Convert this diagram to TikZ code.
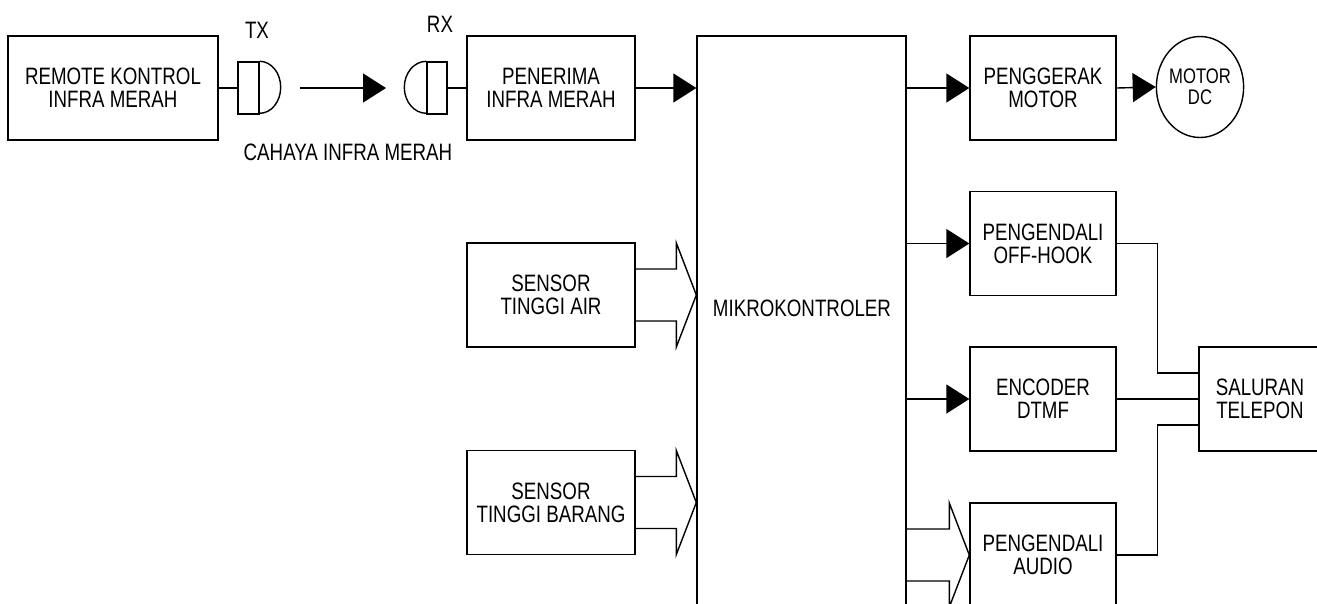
\documentclass[tikz,border=0pt]{standalone}
\usepackage{fontspec}
\setmainfont{Liberation Sans}[FakeStretch=0.79]
\usetikzlibrary{arrows.meta,calc,shapes.geometric}

\tikzset{
  blok/.style={draw, rectangle, minimum width=3.36cm, minimum height=2.08cm, align=center, inner sep=0pt},
  blokkanan/.style={blok, minimum width=2.92cm},
  panah/.style={-{Triangle[length=0.46cm,width=0.58cm]}},
}

% panah tebal (berongga): #1 pangkal, #2 ujung
\newcommand{\panahtebal}[2]{%
  \draw ($(#1)+(0,-26)$) -| ($(#2)+(-20,-52)$) -- (#2) -- ($(#2)+(-20,52)$) |- ($(#1)+(0,26)$);
}

\begin{document}
\begin{tikzpicture}[x=0.02cm, y=-0.02cm, line width=0.8pt,
    font=\fontsize{13.5}{13.2}\selectfont]
  \useasboundingbox (0,0) rectangle (1317,603);

  % blok kiri
  \node[blok, minimum width=4.2cm] (remote) at (113,88) {REMOTE KONTROL\\INFRA MERAH};
  \node[draw, minimum width=0.42cm, minimum height=1.04cm, inner sep=0pt] (tx) at (248.5,88) {};
  \node[draw, minimum width=0.4cm, minimum height=1.04cm, inner sep=0pt] (rx) at (437,88) {};
  \node[blok] (penerima) at (551,88) {PENERIMA\\INFRA MERAH};
  \node[blok] (air) at (551,295) {SENSOR\\TINGGI AIR};
  \node[blok] (barang) at (551,502.5) {SENSOR\\TINGGI BARANG};

  \node (txlabel) at (257,30) {TX};
  \node (rxlabel) at (440,24) {RX};
  \node (cahaya) at (348,152) {CAHAYA INFRA MERAH};

  % mikrokontroler
  \node[draw, minimum width=4.18cm, minimum height=12.08cm, inner sep=0pt] (mk) at (801.5,338) {};
  \node (mklabel) at (802,308) {MIKROKONTROLER};

  % blok kanan
  \node[blokkanan] (gerak) at (1043,88) {PENGGERAK\\MOTOR};
  \node[draw, ellipse, minimum width=1.7cm, minimum height=2.02cm, inner sep=0pt, align=center,
    font=\fontsize{12}{12}\selectfont] (motor) at (1200,87) {MOTOR\\DC};
  \node[blokkanan] (offhook) at (1043,243.5) {PENGENDALI\\OFF-HOOK};
  \node[blokkanan] (dtmf) at (1043,399) {ENCODER\\DTMF};
  \node[blokkanan] (audio) at (1043,555) {PENGENDALI\\AUDIO};
  \node[blok, minimum width=2.44cm] (saluran) at (1260,399) {SALURAN\\TELEPON};

  % pemancar dan penerima infra merah
  \draw (tx.north east) arc[start angle=90, end angle=-90, x radius=0.42cm, y radius=0.52cm];
  \draw (rx.north west) arc[start angle=90, end angle=270, x radius=0.44cm, y radius=0.52cm];
  \coordinate (sinar1) at (300,88);
  \coordinate (sinar2) at (386,88);

  \draw (remote.east) -- (tx.west);
  \draw[panah] (sinar1) -- (sinar2);
  \draw (rx.east) -- (penerima.west);
  \draw[panah] (penerima.east) -- (mk.west |- penerima.east);

  \panahtebal{air.east}{mk.west |- air.east}
  \panahtebal{barang.east}{mk.west |- barang.east}

  \draw[panah] (mk.east |- gerak.west) -- (gerak.west);
  \draw[panah] (gerak.east) -- (motor.west);
  \draw[panah] (mk.east |- offhook.west) -- (offhook.west);
  \draw[panah] (mk.east |- dtmf.west) -- (dtmf.west);
  \panahtebal{mk.east |- audio.west}{audio.west}

  % ke saluran telepon
  \draw (offhook.east) -- ++(41,0) |- ($(saluran.west)+(0,-26)$);
  \draw (dtmf.east) -- (saluran.west);
  \draw (audio.east) -- ++(41,0) |- ($(saluran.west)+(0,26)$);
\end{tikzpicture}
\end{document}
